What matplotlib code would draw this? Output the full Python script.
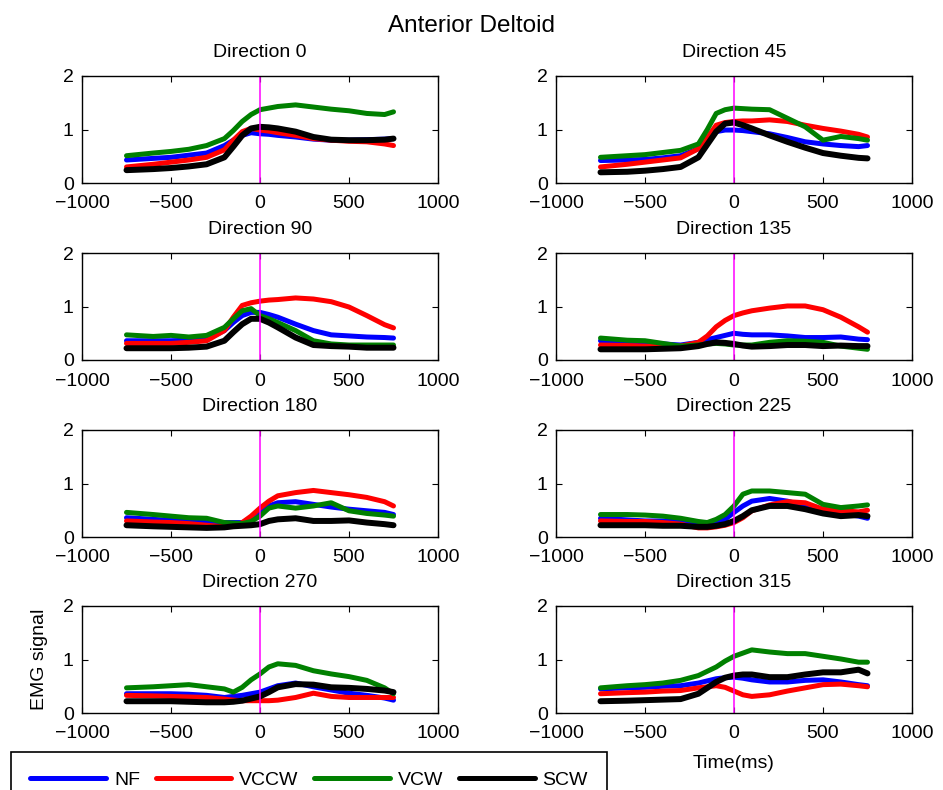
import matplotlib
matplotlib.use('Agg')
import matplotlib.pyplot as plt
import numpy as np

plt.rcParams['font.family'] = ['Liberation Sans', 'DejaVu Sans']
plt.rcParams['font.size'] = 14

# time axis (ms)
t = [-750, -600, -500, -400, -300, -200, -150, -100, -50, 0, 50, 100, 200, 300, 400, 500, 600, 700, 750]

directions = [0, 45, 90, 135, 180, 225, 270, 315]
labels = ['NF', 'VCCW', 'VCW', 'SCW']
colors = ['#0000ff', '#ff0000', '#008000', '#000000']

# Direction 0
d0_nf   = [0.43, 0.46, 0.48, 0.52, 0.56, 0.70, 0.80, 0.89, 0.94, 0.92, 0.91, 0.89, 0.86, 0.82, 0.80, 0.80, 0.81, 0.82, 0.83]
d0_vccw = [0.30, 0.35, 0.39, 0.43, 0.48, 0.62, 0.80, 0.96, 1.02, 0.99, 0.97, 0.94, 0.89, 0.83, 0.80, 0.78, 0.77, 0.73, 0.70]
d0_vcw  = [0.51, 0.56, 0.59, 0.63, 0.70, 0.83, 0.98, 1.15, 1.28, 1.37, 1.40, 1.43, 1.46, 1.42, 1.38, 1.35, 1.30, 1.28, 1.33]
d0_scw  = [0.24, 0.26, 0.28, 0.31, 0.35, 0.48, 0.68, 0.89, 1.02, 1.05, 1.04, 1.02, 0.96, 0.86, 0.81, 0.80, 0.80, 0.81, 0.83]

# Direction 45
d45_nf   = [0.42, 0.43, 0.44, 0.47, 0.51, 0.64, 0.80, 0.96, 0.99, 0.99, 0.98, 0.96, 0.92, 0.85, 0.77, 0.73, 0.70, 0.68, 0.70]
d45_vccw = [0.30, 0.35, 0.39, 0.43, 0.47, 0.64, 0.85, 1.08, 1.13, 1.15, 1.16, 1.16, 1.18, 1.15, 1.08, 1.02, 0.97, 0.91, 0.86]
d45_vcw  = [0.48, 0.51, 0.53, 0.57, 0.61, 0.73, 1.00, 1.30, 1.37, 1.40, 1.39, 1.38, 1.37, 1.21, 1.05, 0.80, 0.87, 0.83, 0.80]
d45_scw  = [0.20, 0.21, 0.23, 0.26, 0.30, 0.48, 0.72, 0.96, 1.11, 1.13, 1.08, 1.02, 0.89, 0.77, 0.66, 0.56, 0.51, 0.47, 0.46]

# Direction 90
d90_nf   = [0.36, 0.36, 0.36, 0.37, 0.39, 0.55, 0.70, 0.83, 0.89, 0.89, 0.85, 0.80, 0.67, 0.55, 0.47, 0.45, 0.43, 0.42, 0.41]
d90_vccw = [0.31, 0.31, 0.31, 0.33, 0.36, 0.55, 0.80, 1.02, 1.07, 1.10, 1.12, 1.13, 1.16, 1.14, 1.09, 0.99, 0.83, 0.66, 0.60]
d90_vcw  = [0.47, 0.44, 0.46, 0.43, 0.46, 0.61, 0.77, 0.92, 0.96, 0.83, 0.77, 0.70, 0.55, 0.36, 0.30, 0.28, 0.28, 0.28, 0.28]
d90_scw  = [0.22, 0.22, 0.22, 0.23, 0.25, 0.36, 0.52, 0.67, 0.77, 0.77, 0.70, 0.61, 0.42, 0.28, 0.26, 0.25, 0.23, 0.23, 0.23]

# Direction 135
d135_nf   = [0.36, 0.34, 0.33, 0.30, 0.28, 0.33, 0.38, 0.42, 0.46, 0.50, 0.48, 0.47, 0.47, 0.45, 0.42, 0.42, 0.43, 0.39, 0.38]
d135_vccw = [0.28, 0.27, 0.26, 0.26, 0.26, 0.33, 0.45, 0.62, 0.74, 0.83, 0.88, 0.92, 0.97, 1.01, 1.01, 0.94, 0.80, 0.62, 0.52]
d135_vcw  = [0.41, 0.37, 0.36, 0.31, 0.26, 0.28, 0.30, 0.31, 0.30, 0.28, 0.28, 0.28, 0.33, 0.36, 0.35, 0.33, 0.26, 0.22, 0.20]
d135_scw  = [0.20, 0.20, 0.20, 0.21, 0.22, 0.26, 0.30, 0.33, 0.32, 0.30, 0.27, 0.25, 0.26, 0.28, 0.28, 0.26, 0.27, 0.26, 0.26]

# Direction 180
d180_nf   = [0.36, 0.33, 0.31, 0.29, 0.27, 0.27, 0.27, 0.27, 0.33, 0.44, 0.58, 0.64, 0.66, 0.61, 0.56, 0.52, 0.49, 0.46, 0.42]
d180_vccw = [0.30, 0.28, 0.27, 0.25, 0.22, 0.19, 0.20, 0.27, 0.39, 0.54, 0.67, 0.77, 0.83, 0.87, 0.83, 0.79, 0.74, 0.66, 0.58]
d180_vcw  = [0.46, 0.42, 0.39, 0.36, 0.35, 0.27, 0.26, 0.25, 0.29, 0.39, 0.54, 0.58, 0.54, 0.58, 0.64, 0.49, 0.44, 0.41, 0.39]
d180_scw  = [0.22, 0.20, 0.19, 0.18, 0.17, 0.18, 0.20, 0.21, 0.22, 0.24, 0.30, 0.33, 0.35, 0.30, 0.30, 0.31, 0.27, 0.24, 0.22]

# Direction 225
d225_nf   = [0.35, 0.32, 0.30, 0.30, 0.29, 0.22, 0.24, 0.27, 0.33, 0.46, 0.58, 0.67, 0.72, 0.67, 0.58, 0.50, 0.44, 0.39, 0.35]
d225_vccw = [0.30, 0.29, 0.29, 0.27, 0.24, 0.17, 0.17, 0.19, 0.22, 0.27, 0.36, 0.49, 0.60, 0.66, 0.64, 0.52, 0.49, 0.47, 0.50]
d225_vcw  = [0.42, 0.42, 0.41, 0.39, 0.35, 0.29, 0.27, 0.33, 0.42, 0.58, 0.80, 0.86, 0.86, 0.83, 0.80, 0.61, 0.55, 0.58, 0.60]
d225_scw  = [0.22, 0.22, 0.22, 0.21, 0.21, 0.19, 0.19, 0.21, 0.24, 0.30, 0.39, 0.50, 0.58, 0.58, 0.52, 0.44, 0.39, 0.41, 0.39]

# Direction 270
d270_nf   = [0.36, 0.36, 0.36, 0.35, 0.33, 0.29, 0.31, 0.33, 0.36, 0.39, 0.45, 0.51, 0.56, 0.49, 0.43, 0.37, 0.33, 0.28, 0.24]
d270_vccw = [0.33, 0.32, 0.31, 0.30, 0.29, 0.26, 0.24, 0.23, 0.23, 0.23, 0.23, 0.24, 0.29, 0.37, 0.31, 0.29, 0.29, 0.29, 0.29]
d270_vcw  = [0.47, 0.49, 0.51, 0.53, 0.49, 0.45, 0.39, 0.48, 0.62, 0.73, 0.86, 0.92, 0.89, 0.79, 0.73, 0.68, 0.61, 0.47, 0.36]
d270_scw  = [0.22, 0.22, 0.22, 0.21, 0.20, 0.20, 0.21, 0.23, 0.27, 0.31, 0.39, 0.48, 0.54, 0.53, 0.48, 0.47, 0.45, 0.42, 0.39]

# Direction 315
d315_nf   = [0.45, 0.47, 0.48, 0.50, 0.51, 0.56, 0.60, 0.64, 0.66, 0.67, 0.65, 0.62, 0.58, 0.58, 0.61, 0.62, 0.58, 0.53, 0.51]
d315_vccw = [0.36, 0.38, 0.39, 0.41, 0.42, 0.47, 0.49, 0.51, 0.48, 0.41, 0.34, 0.31, 0.34, 0.41, 0.47, 0.53, 0.54, 0.51, 0.49]
d315_vcw  = [0.47, 0.51, 0.53, 0.56, 0.61, 0.70, 0.78, 0.86, 0.97, 1.06, 1.12, 1.18, 1.14, 1.11, 1.11, 1.06, 1.01, 0.95, 0.95]
d315_scw  = [0.22, 0.23, 0.24, 0.25, 0.26, 0.36, 0.47, 0.58, 0.66, 0.70, 0.72, 0.72, 0.67, 0.67, 0.72, 0.76, 0.76, 0.81, 0.74]

panels = [
    (d0_nf, d0_vccw, d0_vcw, d0_scw),
    (d45_nf, d45_vccw, d45_vcw, d45_scw),
    (d90_nf, d90_vccw, d90_vcw, d90_scw),
    (d135_nf, d135_vccw, d135_vcw, d135_scw),
    (d180_nf, d180_vccw, d180_vcw, d180_scw),
    (d225_nf, d225_vccw, d225_vcw, d225_scw),
    (d270_nf, d270_vccw, d270_vcw, d270_scw),
    (d315_nf, d315_vccw, d315_vcw, d315_scw),
]

W, H = 943, 790
fig = plt.figure(figsize=(W / 100, H / 100), dpi=100)

# axes boxes in pixels (left, top)
col_left = [82, 556]
row_top = [76, 253, 430, 606]
ax_w, ax_h = 356, 107

handles = []
for i, d in enumerate(directions):
    r, c = i // 2, i % 2
    ax = fig.add_axes([col_left[c] / W, 1 - (row_top[r] + ax_h) / H, ax_w / W, ax_h / H])
    series = panels[i]
    for k in range(4):
        lw = 4.3 if k == 3 else 3.6
        ln, = ax.plot(t, series[k], color=colors[k], lw=lw, solid_capstyle='round',
                      solid_joinstyle='round', label=labels[k])
        if i == 0:
            handles.append(ln)
    ax.plot([0, 0], [0, 2], color='#ff00ff', lw=1.1)
    ax.set_xlim(-1000, 1000)
    ax.set_ylim(0, 2)
    ax.set_xticks([-1000, -500, 0, 500, 1000])
    ax.set_yticks([0, 1, 2])
    ax.tick_params(direction='in', length=4, top=True, right=True, labelsize=14)
    ax.tick_params(axis='x', pad=9)
    ax.tick_params(axis='y', pad=6)
    for s in ax.spines.values():
        s.set_linewidth(1.0)
    ax.set_title('Direction %d' % d, fontsize=14, pad=14)
    if i == 6:
        ax.set_ylabel('EMG signal', fontsize=14, labelpad=11)
    if i == 7:
        ax.set_xlabel('Time(ms)', fontsize=14, labelpad=9)

fig.text(0.5, 1 - 32 / H, 'Anterior Deltoid', fontsize=17.5, ha='center', va='baseline')

leg = fig.legend(handles, labels, loc='upper left', bbox_to_anchor=(11 / W, 1 - 752 / H),
                 borderaxespad=0, ncol=4, fontsize=14, handlelength=3.9, handletextpad=0.4,
                 columnspacing=0.8, borderpad=1.0, fancybox=False, framealpha=1,
                 edgecolor='black')
leg.get_frame().set_linewidth(1.2)
for lh in leg.get_lines():
    lh.set_linewidth(3.6)

fig.savefig('out.png', dpi=100)
